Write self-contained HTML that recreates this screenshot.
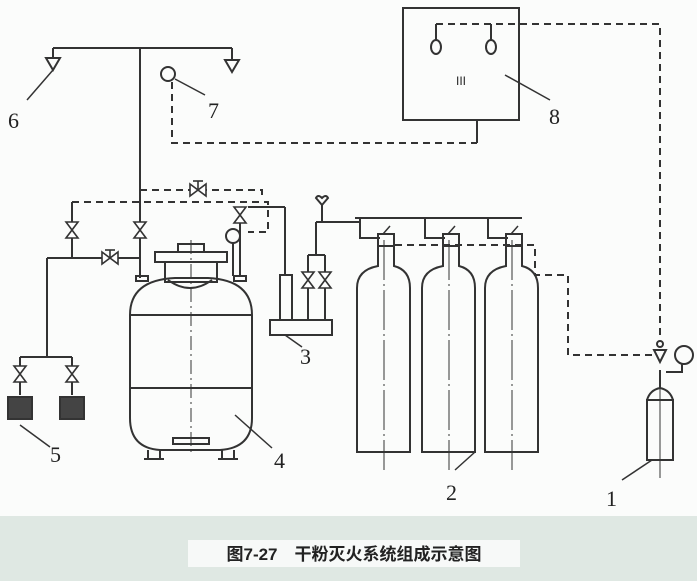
<!DOCTYPE html>
<html><head><meta charset="utf-8"><style>
html,body{margin:0;padding:0;background:#fbfcfb;}
svg{display:block}
</style></head><body>
<svg width="697" height="581" viewBox="0 0 697 581" xmlns="http://www.w3.org/2000/svg" font-family="Liberation Serif, serif">
<rect x="0" y="0" width="697" height="581" fill="#fbfcfb"/>
<rect x="0" y="516" width="697" height="65" fill="#dfe8e3"/>
<rect x="188" y="540" width="332" height="27" fill="#f7f9f8"/>
<text x="354" y="560" text-anchor="middle" font-family="Liberation Sans, 'Noto Sans CJK SC', sans-serif" font-size="17" font-weight="bold" fill="#222">图7-27　干粉灭火系统组成示意图</text>
<g stroke="#333" stroke-width="2" fill="none">
<!-- box 8 -->
<rect x="403" y="8" width="116" height="112"/>
<ellipse cx="436" cy="47" rx="5" ry="7"/><ellipse cx="491" cy="47" rx="5" ry="7"/>
<line x1="436" y1="40" x2="436" y2="24"/><line x1="491" y1="40" x2="491" y2="24"/>
<line x1="477" y1="120" x2="477" y2="143"/>
<line x1="505" y1="75" x2="550" y2="100" stroke-width="1.5"/>
<!-- top pipe & nozzles -->
<line x1="53" y1="48" x2="232" y2="48"/>
<line x1="53" y1="48" x2="53" y2="58"/><line x1="232" y1="48" x2="232" y2="60"/>
<path d="M46 58 L60 58 L53 70 Z"/><path d="M225 60 L239 60 L232 72 Z"/>
<line x1="53" y1="70" x2="27" y2="100" stroke-width="1.5"/>
<line x1="140" y1="48" x2="140" y2="278"/>
<circle cx="168" cy="74" r="7"/>
<line x1="175" y1="79" x2="205" y2="95" stroke-width="1.5"/>
<!-- left piping -->
<line x1="47" y1="258" x2="140" y2="258"/>
<line x1="47" y1="258" x2="47" y2="357"/>
<line x1="20" y1="357" x2="72" y2="357"/>
<line x1="20" y1="357" x2="20" y2="395"/><line x1="72" y1="357" x2="72" y2="395"/>
<line x1="72" y1="202" x2="72" y2="258"/>
<!-- devices 5 -->
<rect x="8" y="397" width="24" height="22" fill="#444"/>
<rect x="60" y="397" width="24" height="22" fill="#444"/>
<line x1="20" y1="425" x2="50" y2="447" stroke-width="1.5"/>
<!-- tank 4 -->
<path d="M130 315 Q130 280 175 278 L208 278 Q252 280 252 315 L252 418 Q252 448 220 450 L160 450 Q130 448 130 418 Z"/>
<line x1="130" y1="315" x2="252" y2="315"/><line x1="130" y1="388" x2="252" y2="388"/>
<path d="M168 280 Q190 296 212 280"/>
<rect x="155" y="252" width="72" height="10"/>
<rect x="165" y="262" width="52" height="20"/>
<rect x="178" y="244" width="26" height="8"/>
<rect x="136" y="276" width="12" height="5"/><rect x="234" y="276" width="12" height="5"/>
<line x1="148" y1="450" x2="148" y2="458"/><line x1="160" y1="450" x2="160" y2="458"/>
<line x1="222" y1="450" x2="222" y2="458"/><line x1="234" y1="450" x2="234" y2="458"/>
<line x1="144" y1="459" x2="164" y2="459"/><line x1="218" y1="459" x2="238" y2="459"/>
<rect x="173" y="438" width="36" height="6"/>
<line x1="191" y1="240" x2="191" y2="455" stroke-width="1" stroke-dasharray="14 4 2 4"/>
<circle cx="233" cy="236" r="7"/><line x1="233" y1="243" x2="233" y2="276"/>
<line x1="240" y1="215" x2="240" y2="276"/>
<line x1="235" y1="415" x2="272" y2="448" stroke-width="1.5"/>
<!-- component 3 -->
<rect x="270" y="320" width="62" height="15"/>
<rect x="280" y="275" width="12" height="45"/>
<line x1="285" y1="207" x2="285" y2="275"/>
<line x1="248" y1="207" x2="285" y2="207"/>
<line x1="308" y1="255" x2="308" y2="320"/><line x1="325" y1="255" x2="325" y2="320"/>
<line x1="308" y1="255" x2="325" y2="255"/>
<line x1="316" y1="222" x2="316" y2="255"/>
<line x1="316" y1="222" x2="360" y2="222"/>
<line x1="322" y1="205" x2="322" y2="222"/>
<path d="M322 205 L316 198 Q318 194 322 198 Q326 194 328 198 Z"/>
<line x1="285" y1="335" x2="302" y2="347" stroke-width="1.5"/>
<!-- manifold -->
<line x1="355" y1="218" x2="522" y2="218"/>
<path d="M360 218 V238 H380 M425 218 V238 H445 M488 218 V238 H508"/>
<!-- cylinders -->
<g id="cyl">
<path d="M357 452 V288 Q357 270 378 266 V246 H394 V266 Q410 270 410 288 V452 Z"/>
<rect x="378" y="234" width="16" height="12"/>
<line x1="383" y1="234" x2="390" y2="226" stroke-width="1.5"/>
<line x1="384" y1="240" x2="384" y2="470" stroke-width="1" stroke-dasharray="40 4 2 4"/>
</g>
<use href="#cyl" x="65"/><use href="#cyl" x="128"/>
<line x1="455" y1="470" x2="475" y2="452" stroke-width="1.5"/>
<!-- cylinder 1 -->
<rect x="647" y="400" width="26" height="60"/>
<path d="M647 400 Q650 390 660 388 Q670 390 673 400"/>
<line x1="660" y1="370" x2="660" y2="388"/>
<path d="M654 350 L666 350 L660 362 Z"/>
<circle cx="660" cy="344" r="3"/>
<circle cx="684" cy="355" r="9"/>
<path d="M666 372 H682 V364"/>
<line x1="660" y1="380" x2="660" y2="478" stroke-width="1"/>
<line x1="652" y1="460" x2="622" y2="480" stroke-width="1.5"/>
</g>
<!-- dashed lines -->
<g stroke="#333" stroke-width="2" fill="none" stroke-dasharray="7 5">
<path d="M436 24 H660 V340"/>
<path d="M172 82 V143 H477"/>
<path d="M72 202 H268 V232 H248"/>
<path d="M140 190 H262 V200"/>
<path d="M395 245 H535 V275 H568 V355 H652"/>
</g>
<!-- valves -->
<g stroke="#333" stroke-width="1.6" fill="#fff">
<path d="M66 222 L78 238 L66 238 L78 222 Z"/>
<path d="M134 222 L146 238 L134 238 L146 222 Z"/>
<path d="M14 366 L26 382 L14 382 L26 366 Z"/>
<path d="M66 366 L78 382 L66 382 L78 366 Z"/>
<path d="M302 272 L314 288 L302 288 L314 272 Z"/>
<path d="M319 272 L331 288 L319 288 L331 272 Z"/>
<path d="M234 207 L246 223 L234 223 L246 207 Z"/>
<path d="M102 252 L118 264 L118 252 L102 264 Z"/>
<path d="M190 184 L206 196 L206 184 L190 196 Z"/>
<line x1="110" y1="258" x2="110" y2="250"/><line x1="105" y1="250" x2="115" y2="250"/>
<line x1="198" y1="190" x2="198" y2="181"/><line x1="193" y1="181" x2="203" y2="181"/>
</g>
<g fill="#222" font-size="22">
<text x="8" y="128">6</text>
<text x="208" y="118">7</text>
<text x="549" y="124">8</text>
<text x="456" y="85" font-size="12" font-family="Liberation Sans, sans-serif">III</text>
<text x="300" y="364">3</text>
<text x="274" y="468">4</text>
<text x="50" y="462">5</text>
<text x="446" y="500">2</text>
<text x="606" y="506">1</text>
</g>
</svg>
</body></html>
